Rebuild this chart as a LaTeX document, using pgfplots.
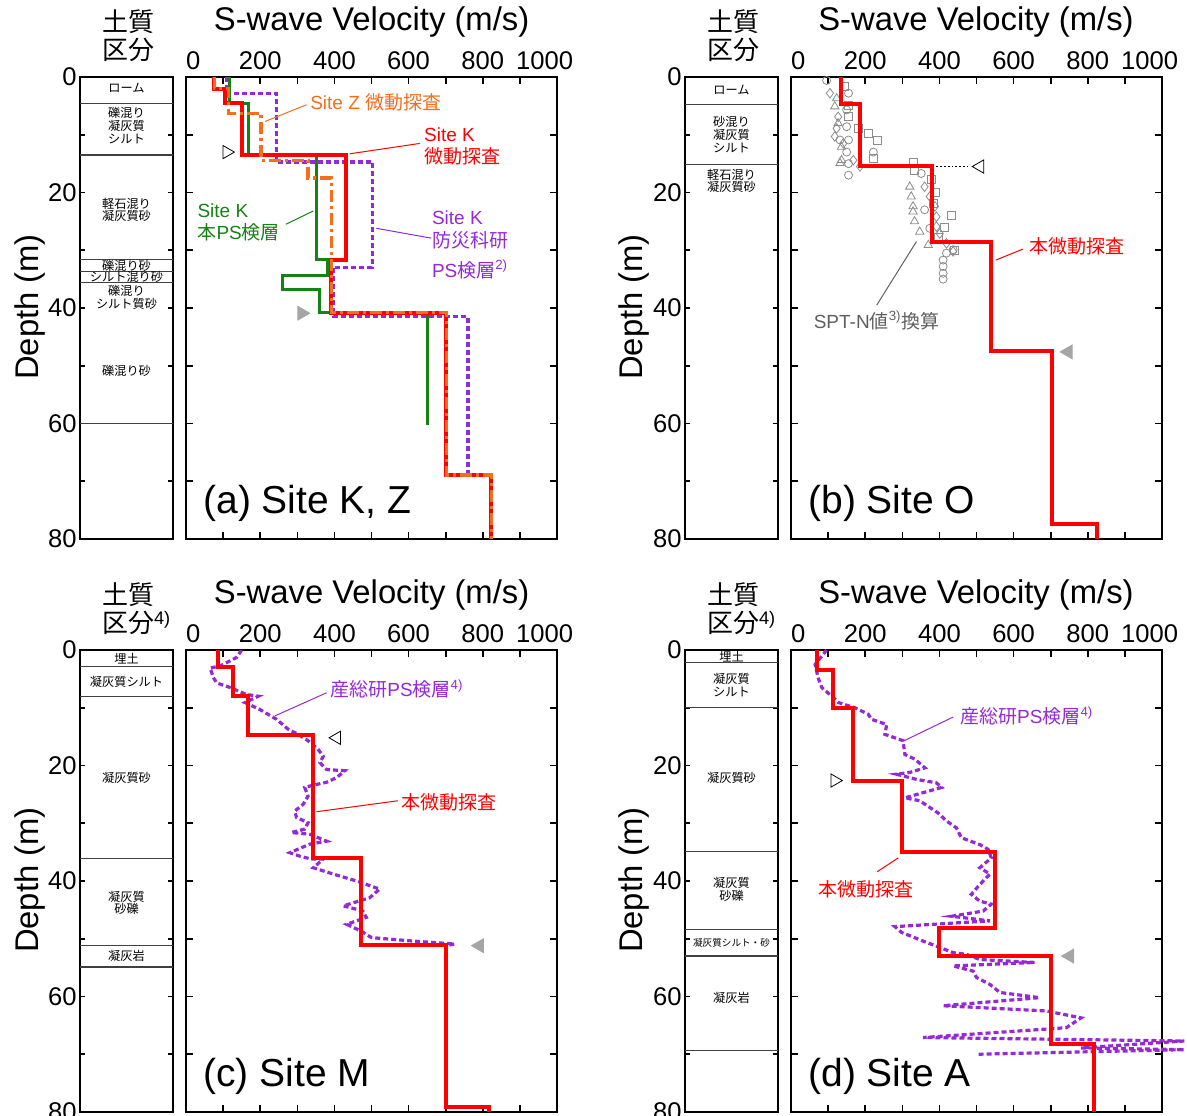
\documentclass[border=0pt]{standalone}
\usepackage{fontspec}
\setmainfont{Liberation Sans}
\newfontfamily\jp{Noto Sans CJK JP}
\usepackage{pgfplots}
\pgfplotsset{compat=1.18}
\definecolor{myred}{RGB}{255,0,0}
\definecolor{mygreen}{RGB}{20,130,20}
\definecolor{myorange}{RGB}{245,110,30}
\definecolor{mypurple}{RGB}{150,40,215}
\definecolor{mygray}{RGB}{95,95,95}
\definecolor{ptgray}{RGB}{140,140,140}
\definecolor{trigray}{RGB}{165,165,165}
\tikzset{
 ann/.style={font=\fontsize{9.5}{11}\selectfont, inner sep=0pt, anchor=west, align=left},
 plab/.style={font=\fontsize{19.5}{19.5}\selectfont, inner sep=0pt, anchor=base west},
}
\pgfplotsset{
 /pgf/number format/assume math mode=true,
 base/.style={scale only axis, y dir=reverse, ymin=0, ymax=80, height=231pt,
   axis line style={line width=1.1pt}, tick style={line width=0.8pt, black},
   tick align=inside, ytick={0,20,40,60,80}, minor ytick={10,30,50,70},
   tick label style={font=\fontsize{12.8}{12.8}\selectfont},
   clip mode=individual, anchor=north west},
 soil/.style={base, width=46.5pt, xmin=0, xmax=1, xtick=\empty, yticklabel pos=left,
   yticklabel style={inner sep=1.5pt}, major tick length=2.5pt, minor tick length=2.5pt,
   nodes={font=\jp\fontsize{6.1}{6.4}\selectfont, align=center, inner sep=0pt}},
 vel/.style={base, width=185.5pt, xmin=0, xmax=1000, xtick={0,200,...,1000},
   minor xtick={100,300,...,900}, xticklabel pos=upper, yticklabels={},
   major tick length=3.5pt, minor tick length=3.5pt,
   xticklabels={\makebox[0pt][l]{0},200,400,600,800,\makebox[0pt][r]{1000\kern-8pt}}},
 bnd/.style={black!75, line width=0.6pt},
 redl/.style={myred, line width=2pt},
 purl/.style={mypurple, line width=1.6pt, dash pattern=on 2.5pt off 1.5pt},
 opentri/.style={only marks, black, mark=triangle, mark size=3.8pt, mark options={line width=0.8pt}},
 graytri/.style={only marks, trigray, mark=triangle*, mark size=4pt, mark options={fill=trigray, draw=trigray}},
 spt/.style={only marks, ptgray, mark size=2pt, mark options={line width=0.4pt}},
}
\begin{document}
\begin{tikzpicture}
\path[use as bounding box] (0,0) rectangle (593.5pt,-557.5pt);
% ---------- headers ----------
\node[font=\jp\fontsize{13}{14}\selectfont, align=center] at (64pt,-18pt) {土質\\区分};
\node[font=\jp\fontsize{13}{14}\selectfont, align=center] at (366.5pt,-18pt) {土質\\区分};
\node[font=\jp\fontsize{13}{14}\selectfont, align=center] at (64pt,-304.5pt) {土質\\区分\rlap{\rmfamily\textsuperscript{4)}}};
\node[font=\jp\fontsize{13}{14}\selectfont, align=center] at (366.5pt,-304.5pt) {土質\\区分\rlap{\rmfamily\textsuperscript{4)}}};
\node[font=\fontsize{16.4}{16.4}\selectfont] at (185.8pt,-11pt) {S-wave Velocity (m/s)};
\node[font=\fontsize{16.4}{16.4}\selectfont] at (488pt,-11pt) {S-wave Velocity (m/s)};
\node[font=\fontsize{16.4}{16.4}\selectfont] at (185.8pt,-297.5pt) {S-wave Velocity (m/s)};
\node[font=\fontsize{16.4}{16.4}\selectfont] at (488pt,-297.5pt) {S-wave Velocity (m/s)};
\node[rotate=90, font=\fontsize{16.4}{16.4}\selectfont] at (15pt,-153.5pt) {Depth (m)};
\node[rotate=90, font=\fontsize{16.4}{16.4}\selectfont] at (317pt,-153.5pt) {Depth (m)};
\node[rotate=90, font=\fontsize{16.4}{16.4}\selectfont] at (15pt,-440pt) {Depth (m)};
\node[rotate=90, font=\fontsize{16.4}{16.4}\selectfont] at (317pt,-440pt) {Depth (m)};

% ================= (a) =================
\begin{axis}[soil, at={(40pt,-38.5pt)}]
\addplot[bnd] coordinates {(0,4.6) (1,4.6)};
\addplot[bnd] coordinates {(0,13.5) (1,13.5)};
\addplot[bnd] coordinates {(0,31.6) (1,31.6)};
\addplot[bnd] coordinates {(0,33.7) (1,33.7)};
\addplot[bnd] coordinates {(0,35.6) (1,35.6)};
\addplot[bnd] coordinates {(0,60) (1,60)};
\node at (axis cs:0.5,1.9) {ローム};
\node at (axis cs:0.5,8.4) {礫混り\\凝灰質\\シルト};
\node at (axis cs:0.5,23.0) {軽石混り\\凝灰質砂};
\node at (axis cs:0.5,32.65) {礫混り砂};
\node at (axis cs:0.5,34.65) {シルト混り砂};
\node at (axis cs:0.5,38.2) {礫混り\\シルト質砂};
\node at (axis cs:0.5,50.8) {礫混り砂};
\end{axis}
\begin{axis}[vel, at={(93pt,-38.5pt)}]
\addplot[purl] coordinates {(109,0) (109,2.8) (244,2.8) (244,14.7) (502,14.7) (502,32.95) (397,32.95) (397,41.5) (760,41.5) (760,68.9) (823,68.9)};
\addplot[mygreen, line width=1.5pt] coordinates {(118,0) (118,4.56) (168,4.56) (168,13.5) (352,13.5) (352,31.6) (381,31.6) (381,34.3) (260,34.3) (260,36.8) (359,36.8) (359,40.8) (650,40.8) (650,60.3)};
\addplot[redl] coordinates {(76,0) (76,2) (105,2) (105,4.5) (150,4.5) (150,13.5) (430,13.5) (430,31.6) (392,31.6) (392,40.8) (702,40.8) (702,68.9) (823,68.9) (823,80)};
\addplot[myorange, line width=1.6pt, dash pattern=on 6pt off 2pt on 1.5pt off 2pt] coordinates {(76,0) (76,2) (115,2) (115,6.3) (202,6.3) (202,14.4) (329,14.4) (329,17.5) (392,17.5) (392,40.8) (702,40.8) (702,68.9) (823,68.9) (823,80)};
\addplot[opentri, mark options={rotate=-90}] coordinates {(110,13.0)};
\addplot[graytri, mark options={rotate=-90}] coordinates {(312,40.9)};
\draw[myorange, line width=0.5pt] (axis cs:213,7.7) -- (axis cs:325,4.8);
\node[ann, myorange] at (axis cs:334,4.3) {Site Z {\jp 微動探査}};
\draw[myred, line width=0.5pt] (axis cs:441,13.3) -- (axis cs:630,11.5);
\node[ann, myred] at (axis cs:641,11.95) {Site K\\{\jp 微動探査}};
\draw[mygreen, line width=0.5pt] (axis cs:269,25.5) -- (axis cs:343,23.2);
\node[ann, mygreen] at (axis cs:30,25.1) {Site K\\{\jp 本}PS{\jp 検層}};
\draw[mypurple, line width=0.5pt] (axis cs:513,26.2) -- (axis cs:661,27.9);
\node[ann, mypurple] at (axis cs:662,24.4) {Site K};
\node[ann, mypurple] at (axis cs:662,28.3) {\jp 防災科研};
\node[ann, mypurple] at (axis cs:662,33.3) {PS{\jp 検層}\textsuperscript{2)}};
\node[plab] at (axis cs:46,75.6) {(a) Site K, Z};
\end{axis}

% ================= (b) =================
\begin{axis}[soil, at={(342.5pt,-38.5pt)}]
\addplot[bnd] coordinates {(0,4.7) (1,4.7)};
\addplot[bnd] coordinates {(0,15.2) (1,15.2)};
\node at (axis cs:0.5,2.2) {ローム};
\node at (axis cs:0.5,10.0) {砂混り\\凝灰質\\シルト};
\node at (axis cs:0.5,18.0) {軽石混り\\凝灰質砂};
\end{axis}
\begin{axis}[vel, at={(395.5pt,-38.5pt)}]
\addplot[spt, mark=o] coordinates {(96,0.6) (155,2.8) (150,5.7) (150,8.6) (155,10.9) (150,13.0) (155,15.0) (155,17.0) (222,13.0) (132,10.9) (351,16.7) (360,23.0) (374,26.2) (419,30.5) (437,29.9) (410,31.7) (410,32.8) (410,34.0) (410,35.0)};
\addplot[spt, mark=square] coordinates {(145,1.7) (155,6.9) (182,8.9) (209,9.8) (233,10.9) (222,14.1) (155,4.9) (329,14.7) (333,16.1) (379,17.8) (390,19.9) (385,21.9) (432,23.9) (414,26.0) (396,27.7) (441,30.0)};
\addplot[spt, mark=triangle, mark size=2.4pt] coordinates {(118,5.1) (127,8.0) (136,14.4) (132,14.9) (136,12.1) (123,3.7) (320,19.0) (324,20.7) (329,22.4) (329,23.3) (333,25.0) (347,26.8) (370,29.1)};
\addplot[spt, mark=diamond, mark size=2.4pt] coordinates {(105,2.8) (123,8.9) (118,10.3) (141,11.5) (186,15.5) (168,14.4) (127,6.9) (360,19.0) (374,20.7) (388,22.4) (392,24.2) (392,25.9) (401,27.1) (419,28.8) (437,30.2)};
\addplot[redl] coordinates {(136,0) (136,4.7) (186,4.7) (186,15.4) (380,15.4) (380,28.5) (538,28.5) (538,47.4) (703,47.4) (703,77.4) (824,77.4) (824,80)};
\addplot[black, line width=0.9pt, densely dotted] coordinates {(392,15.5) (477,15.5)};
\addplot[opentri, mark options={rotate=90}] coordinates {(509,15.5)};
\addplot[graytri, mark options={rotate=90}] coordinates {(747,47.6)};
\draw[mygray, line width=0.5pt] (axis cs:231,39.5) -- (axis cs:338,28.5);
\node[font=\fontsize{9.5}{11}\selectfont, mygray, inner sep=0pt] at (axis cs:231,42.1) {SPT-N{\jp 値}\textsuperscript{3)}{\jp 換算}};
\draw[myred, line width=0.5pt] (axis cs:552,31.7) -- (axis cs:625,29.8);
\node[ann, myred] at (axis cs:643,29.4) {\jp 本微動探査};
\node[plab] at (axis cs:46,75.6) {(b) Site O};
\end{axis}

% ================= (c) =================
\begin{axis}[soil, at={(40pt,-325pt)}]
\addplot[bnd] coordinates {(0,2.9) (1,2.9)};
\addplot[bnd] coordinates {(0,8.0) (1,8.0)};
\addplot[bnd] coordinates {(0,36.1) (1,36.1)};
\addplot[bnd] coordinates {(0,51.1) (1,51.1)};
\addplot[bnd] coordinates {(0,54.9) (1,54.9)};
\node at (axis cs:0.5,1.45) {埋土};
\node at (axis cs:0.5,5.6) {凝灰質シルト};
\node at (axis cs:0.5,22.1) {凝灰質砂};
\node at (axis cs:0.5,43.8) {凝灰質\\砂礫};
\node at (axis cs:0.5,53.0) {凝灰岩};
\end{axis}
\begin{axis}[vel, at={(93pt,-325pt)}]
\addplot[purl] coordinates {(150,0) (136,1.3) (91,2.8) (65,3.1) (74,4.8) (83,5.7) (119,6.5) (163,7.7) (195,8.0) (159,9.1) (199,10.3) (244,12.0) (275,13.7) (302,14.6) (329,15.7) (356,17.2) (370,18.4) (361,19.5) (379,20.7) (428,20.9) (406,22.1) (379,22.9) (343,23.4) (320,23.8) (329,25.3) (316,26.7) (293,27.9) (298,29.0) (329,29.9) (320,31.0) (284,31.6) (334,31.9) (379,33.1) (334,33.6) (280,35.1) (307,35.7) (338,36.2) (370,36.2) (343,37.7) (397,38.8) (460,40.0) (522,41.4) (495,42.9) (424,44.3) (477,45.2) (486,46.3) (433,47.5) (473,48.7) (500,49.8) (612,50.4) (724,50.9) (702,51.2)};
\addplot[redl] coordinates {(85,0) (85,2.9) (126,2.9) (126,8.0) (166,8.0) (166,14.8) (343,14.8) (343,36.1) (471,36.1) (471,51.1) (700,51.1) (700,79.2) (818,79.2) (818,80)};
\addplot[opentri, mark options={rotate=90}] coordinates {(406,15.2)};
\addplot[graytri, mark options={rotate=90}] coordinates {(791,51.2)};
\draw[mypurple, line width=0.5pt] (axis cs:240,11.4) -- (axis cs:379,7.4);
\node[ann, mypurple] at (axis cs:388,6.75) {{\jp 産総研}PS{\jp 検層}\textsuperscript{4)}};
\draw[myred, line width=0.5pt] (axis cs:352,28.0) -- (axis cs:571,26.1);
\node[ann, myred] at (axis cs:580,26.4) {\jp 本微動探査};
\node[plab] at (axis cs:46,75.6) {(c) Site M};
\end{axis}

% ================= (d) =================
\begin{axis}[soil, at={(342.5pt,-325pt)}]
\addplot[bnd] coordinates {(0,2.2) (1,2.2)};
\addplot[bnd] coordinates {(0,9.9) (1,9.9)};
\addplot[bnd] coordinates {(0,34.9) (1,34.9)};
\addplot[bnd] coordinates {(0,48.4) (1,48.4)};
\addplot[bnd] coordinates {(0,53.0) (1,53.0)};
\addplot[bnd] coordinates {(0,69.4) (1,69.4)};
\node at (axis cs:0.5,1.1) {埋土};
\node at (axis cs:0.5,6.0) {凝灰質\\シルト};
\node at (axis cs:0.5,22.1) {凝灰質砂};
\node at (axis cs:0.5,41.4) {凝灰質\\砂礫};
\node[font=\jp\fontsize{4.8}{5}\selectfont] at (axis cs:0.5,50.7) {凝灰質シルト・砂};
\node at (axis cs:0.5,60.3) {凝灰岩};
\end{axis}
\begin{axis}[vel, at={(395.5pt,-325pt)}, clip=false]
\addplot[purl] coordinates {(96,0) (65,2.5) (73,4.8) (83,6.5) (110,8.0) (128,9.1) (172,10.0) (208,11.1) (217,12.0) (258,12.9) (253,14.6) (302,15.7) (307,18.1) (334,18.9) (361,20.4) (320,21.2) (284,21.5) (338,22.4) (392,23.0) (406,23.8) (356,24.7) (307,25.6) (347,26.1) (396,28.2) (419,29.6) (446,30.8) (459,32.5) (509,33.7) (531,34.5) (540,36.0) (509,37.7) (536,38.8) (509,40.6) (486,42.3) (509,43.5) (540,44.0) (518,45.2) (433,46.1) (536,46.9) (280,47.9) (298,48.9) (356,50.4) (401,51.5) (437,52.4) (473,52.7) (509,53.6) (657,54.1) (437,54.7) (491,55.6) (500,56.7) (536,57.9) (563,59.3) (670,60.2) (410,61.6) (688,62.5) (782,63.7) (742,65.4) (356,67.1) (1060,67.7) (782,68.9) (1060,69.2) (500,70.0)};
\addplot[redl] coordinates {(69,0) (69,3.5) (114,3.5) (114,10.0) (166,10.0) (166,22.6) (300,22.6) (300,35.0) (549,35.0) (549,48.1) (399,48.1) (399,53.0) (700,53.0) (700,68.2) (818,68.2) (818,80)};
\addplot[opentri, mark options={rotate=-90}] coordinates {(118,22.6)};
\addplot[graytri, mark options={rotate=90}] coordinates {(751,53.0)};
\draw[mypurple, line width=0.5pt] (axis cs:302,15.8) -- (axis cs:437,11.6);
\node[ann, mypurple] at (axis cs:455,11.4) {{\jp 産総研}PS{\jp 検層}\textsuperscript{4)}};
\draw[myred, line width=0.5pt] (axis cs:232,38.4) -- (axis cs:289,36.0);
\node[ann, myred] at (axis cs:73,41.4) {\jp 本微動探査};
\node[plab] at (axis cs:46,75.6) {(d) Site A};
\end{axis}
\end{tikzpicture}
\end{document}
